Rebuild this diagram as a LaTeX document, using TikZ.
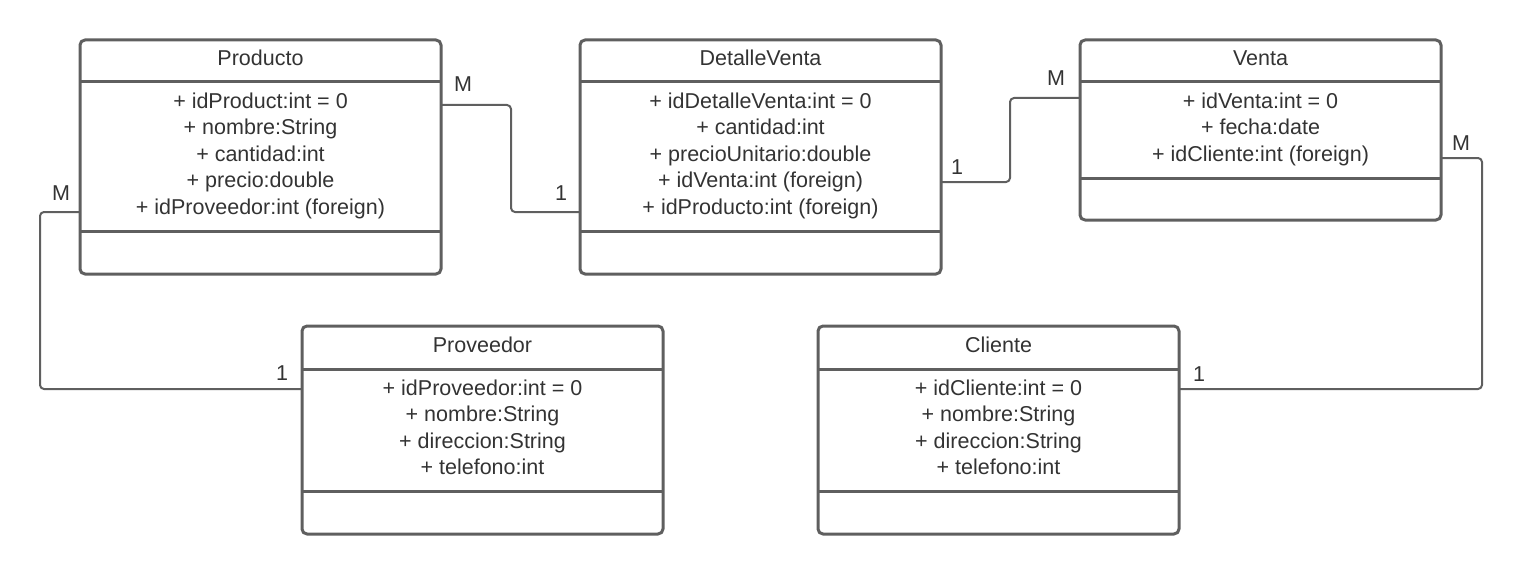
\documentclass[tikz,border=0pt]{standalone}
\usepackage{fontspec}
\setmainfont{Liberation Sans}
\definecolor{linegray}{HTML}{5F5F5F}
\definecolor{txtgray}{HTML}{333333}

\begin{document}
\begin{tikzpicture}[line join=round,x=1pt,y=-1pt,
  classbox/.style={draw=linegray,line width=3pt,rounded corners=5pt,minimum width=361pt,inner sep=0pt,outer sep=0pt,anchor=north west},
  sep/.style={draw=linegray,line width=3pt},
  classname/.style={text=txtgray,font=\fontsize{21.5}{26.5}\selectfont,anchor=base,inner sep=0pt},
  attrs/.style={classname,align=center},
  link/.style={draw=linegray,line width=2pt,rounded corners=4pt},
  mult/.style={text=txtgray,font=\fontsize{21.5}{26.5}\selectfont,inner sep=0pt}]
\useasboundingbox (0,0) rectangle (1523,575);

\node[classbox,minimum height=234pt] (producto) at (80,40) {};
\draw[sep] (80,82) -- (441,82);
\draw[sep] (80,231) -- (441,231);
\node[classname] (productoT) at (260.5,66) {Producto};
\node[attrs] (productoA) at (260.5,214) {+ idProduct:int = 0\\+ nombre:String\\+ cantidad:int\\+ precio:double\\+ idProveedor:int (foreign)};

\node[classbox,minimum height=234pt] (detalle) at (580,40) {};
\draw[sep] (580,82) -- (941,82);
\draw[sep] (580,231) -- (941,231);
\node[classname] (detalleT) at (760.5,66) {DetalleVenta};
\node[attrs] (detalleA) at (760.5,214) {+ idDetalleVenta:int = 0\\+ cantidad:int\\+ precioUnitario:double\\+ idVenta:int (foreign)\\+ idProducto:int (foreign)};

\node[classbox,minimum height=180pt] (venta) at (1080,40) {};
\draw[sep] (1080,82) -- (1441,82);
\draw[sep] (1080,178) -- (1441,178);
\node[classname] (ventaT) at (1260.5,66) {Venta};
\node[attrs] (ventaA) at (1260.5,161) {+ idVenta:int = 0\\+ fecha:date\\+ idCliente:int (foreign)};

\node[classbox,minimum height=208pt] (proveedor) at (302,326) {};
\draw[sep] (302,369) -- (663,369);
\draw[sep] (302,491) -- (663,491);
\node[classname] (proveedorT) at (482.5,352) {Proveedor};
\node[attrs] (proveedorA) at (482.5,474.5) {+ idProveedor:int = 0\\+ nombre:String\\+ direccion:String\\+ telefono:int};

\node[classbox,minimum height=208pt] (cliente) at (818,326) {};
\draw[sep] (818,369) -- (1179,369);
\draw[sep] (818,491) -- (1179,491);
\node[classname] (clienteT) at (998.5,352) {Cliente};
\node[attrs] (clienteA) at (998.5,474.5) {+ idCliente:int = 0\\+ nombre:String\\+ direccion:String\\+ telefono:int};

\draw[link] (producto.east |- 0,105) -- (511,105) -- (511,212) -- (detalle.west |- 0,212);
\draw[link] (detalle.east |- 0,182) -- (1010,182) -- (1010,98) -- (venta.west |- 0,98);
\draw[link] (venta.east |- 0,158) -- (1482,158) -- (1482,389) -- (cliente.east |- 0,389);
\draw[link] (producto.west |- 0,212) -- (40,212) -- (40,389) -- (proveedor.west |- 0,389);

\node[mult] (mProdDet) at (463,84) {M};
\node[mult] (uProdDet) at (561,193) {1};
\node[mult] (uDetVen) at (957,167) {1};
\node[mult] (mDetVen) at (1056,78) {M};
\node[mult] (mVenCli) at (1461,143) {M};
\node[mult] (uVenCli) at (1199,374) {1};
\node[mult] (mProdProv) at (61,193) {M};
\node[mult] (uProdProv) at (282,373) {1};
\end{tikzpicture}
\end{document}
